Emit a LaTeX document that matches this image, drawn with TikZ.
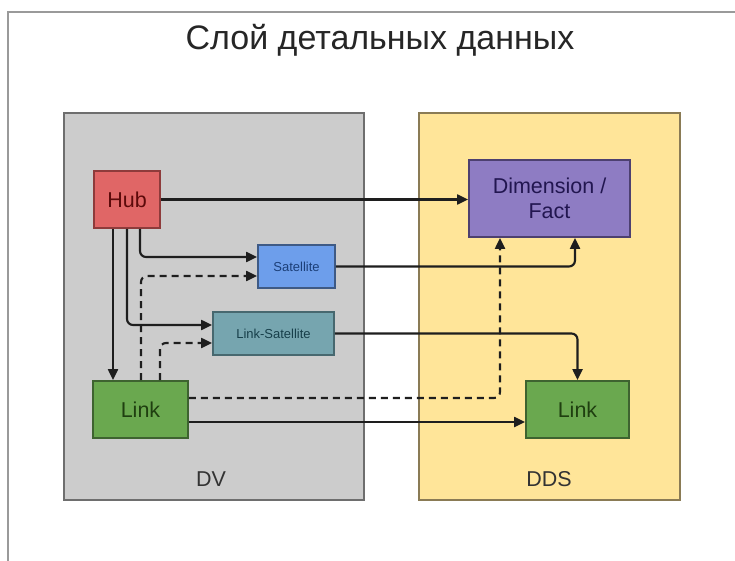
\documentclass[tikz,border=0pt]{standalone}
\usepackage{fontspec}
\setmainfont{Liberation Sans}
\usetikzlibrary{arrows.meta}
\definecolor{dvbg}{HTML}{CCCCCC}
\definecolor{dvbd}{HTML}{6E6E6E}
\definecolor{ddsbg}{HTML}{FFE599}
\definecolor{ddsbd}{HTML}{8A7B55}
\definecolor{hubfill}{HTML}{E06666}
\definecolor{hubbd}{HTML}{8E3B3B}
\definecolor{hubtx}{HTML}{5C0A0A}
\definecolor{satfill}{HTML}{6D9EEB}
\definecolor{satbd}{HTML}{3E5A85}
\definecolor{sattx}{HTML}{1C3F78}
\definecolor{lsfill}{HTML}{76A5AF}
\definecolor{lsbd}{HTML}{47686F}
\definecolor{lstx}{HTML}{173F4A}
\definecolor{lnkfill}{HTML}{6AA84F}
\definecolor{lnkbd}{HTML}{3E6330}
\definecolor{lnktx}{HTML}{1F3F10}
\definecolor{dffill}{HTML}{8E7CC3}
\definecolor{dfbd}{HTML}{4D4070}
\definecolor{dftx}{HTML}{221650}
\definecolor{arrc}{HTML}{1E1E1E}
\definecolor{framec}{HTML}{9A9A9A}
\begin{document}
\begin{tikzpicture}[x=1pt,y=-1pt,
  boxbase/.style={draw, line width=1.8pt, inner sep=0pt, align=center},
  bigtxt/.style={font=\fontsize{21.5}{25}\selectfont},
  smalltxt/.style={font=\fontsize{13}{15}\selectfont},
  arr/.style={draw=arrc, line width=2.1pt, rounded corners=6pt,
    -{Triangle[length=11pt,width=10pt]}},
  dasharr/.style={arr, dash pattern=on 7pt off 5pt}]
\useasboundingbox (0,0) rectangle (735,561);
\fill[white] (0,0) rectangle (735,561);
\draw[framec, line width=1.8pt] (8,561) -- (8,12) -- (735,12);
\node[font=\fontsize{34}{40}\selectfont, text=black!85] (title) at (380,40) {Слой детальных данных};
% containers
\draw[fill=dvbg, draw=dvbd, line width=1.8pt] (64,113) rectangle (364,500);
\draw[fill=ddsbg, draw=ddsbd, line width=1.8pt] (419,113) rectangle (680,500);
\node[bigtxt, text=black!80] (dv) at (211,479) {DV};
\node[bigtxt, text=black!80] (dds) at (549,479) {DDS};
% boxes
\node[boxbase, bigtxt, fill=hubfill, draw=hubbd, text=hubtx, minimum width=66pt, minimum height=57pt] (hub) at (127,199.5) {Hub};
\node[boxbase, smalltxt, fill=satfill, draw=satbd, text=sattx, minimum width=77pt, minimum height=43pt] (sat) at (296.5,266.5) {Satellite};
\node[boxbase, smalltxt, fill=lsfill, draw=lsbd, text=lstx, minimum width=121pt, minimum height=43pt] (ls) at (273.5,333.5) {Link-Satellite};
\node[boxbase, bigtxt, fill=lnkfill, draw=lnkbd, text=lnktx, minimum width=95pt, minimum height=57pt] (linkl) at (140.5,409.5) {Link};
\node[boxbase, bigtxt, fill=dffill, draw=dfbd, text=dftx, minimum width=161pt, minimum height=77pt] (df) at (549.5,198.5) {Dimension /\\Fact};
\node[boxbase, bigtxt, fill=lnkfill, draw=lnkbd, text=lnktx, minimum width=103pt, minimum height=57pt] (linkr) at (577.5,409.5) {Link};
% connectors
\draw[arr] (hub.east) -- (hub.east -| df.west);
\draw[arr] ([xshift=-14pt]hub.south) -- ([xshift=-14pt]hub.south |- linkl.north);
\draw[arr] (hub.south) |- ([yshift=8.5pt]ls.west);
\draw[arr] ([xshift=13pt]hub.south) |- ([yshift=9.5pt]sat.west);
\draw[dasharr] ([xshift=0.5pt]linkl.north) |- ([yshift=-9.5pt]sat.west);
\draw[dasharr] ([xshift=19.5pt]linkl.north) |- ([yshift=-9.5pt]ls.west);
\draw[dasharr] ([yshift=11.5pt]linkl.east) -| ([xshift=-49.5pt]df.south);
\draw[arr] ([yshift=-12.5pt]linkl.east) -- ([yshift=-12.5pt]linkl.east -| linkr.west);
\draw[arr] (sat.east) -| ([xshift=25.5pt]df.south);
\draw[arr] (ls.east) -| (linkr.north);
\end{tikzpicture}
\end{document}
